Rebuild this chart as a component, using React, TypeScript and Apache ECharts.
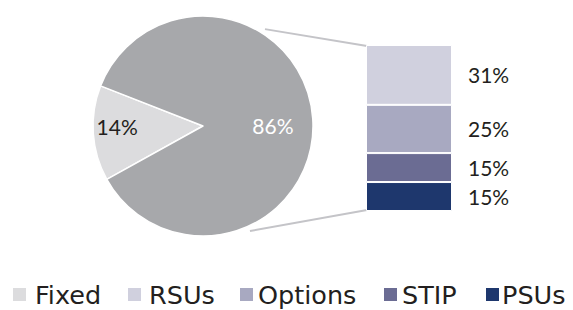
import React, { useEffect, useRef } from "react";
import * as echarts from "echarts";

const pieNames = ["Fixed", "Other"];
const pieValues = [14, 86];
const pieColors = ["#dcdcde", "#a7a8ab"];

const barNames = ["PSUs", "STIP", "Options", "RSUs"];
const barValues = [15, 15, 25, 31];
const barColors = ["#1e376d", "#6b6c93", "#a8a9c1", "#d0d0de"];

const legendNames = ["Fixed", "RSUs", "Options", "STIP", "PSUs"];
const legendLefts = [13, 128, 240, 384, 486];
const legendTextPad = [4, 3, 0, 0, -2];

const PIE_C = [203, 126];
const PIE_R = 110;
const BAR_LEFT = 366;
const BAR_TOP = 45;
const BAR_W = 86;
const BAR_H = 166;

export default function App() {
  const ref = useRef<HTMLDivElement>(null);
  useEffect(() => {
    const chart = echarts.init(ref.current!, undefined, { renderer: "svg" });
    const numFont = "Lato";
    const total = barValues.reduce((a, b) => a + b, 0);
    const pt = (deg: number, r: number) => [
      PIE_C[0] + r * Math.cos((deg * Math.PI) / 180),
      PIE_C[1] - r * Math.sin((deg * Math.PI) / 180),
    ];
    const topStart = pt(57.4, PIE_R + 5);
    const botStart = pt(-65.9, PIE_R + 5);
    chart.setOption({
      animation: false,
      grid: { left: BAR_LEFT, top: BAR_TOP, width: BAR_W, height: BAR_H },
      xAxis: { type: "category", data: ["Other"], show: false },
      yAxis: { type: "value", min: 0, max: total, show: false },
      legend: legendNames.map((n, i) => ({
        data: [n],
        left: legendLefts[i],
        top: 281,
        padding: 0,
        itemWidth: 13,
        itemHeight: 13,
        icon: "rect",
        selectedMode: false,
        itemStyle: { borderWidth: 0 },
        textStyle: {
          fontFamily: "DejaVu Sans",
          fontSize: 25.5,
          color: "#231f20",
          lineHeight: 27,
          padding: [0, 0, 0, legendTextPad[i]],
        },
      })),
      series: [
        {
          type: "pie",
          center: PIE_C,
          radius: PIE_R,
          startAngle: 209,
          clockwise: true,
          data: pieNames.map((n, i) => ({
            name: n,
            value: pieValues[i],
            itemStyle: { color: pieColors[i] },
            label: {
              color: i === 0 ? "#231f20" : "#ffffff",
              offset: i === 0 ? [-28, -3.6] : [12, 3.6],
            },
          })),
          itemStyle: { borderColor: "#ffffff", borderWidth: 1.5 },
          label: {
            show: true,
            position: "inside",
            formatter: "{c}%",
            fontFamily: numFont,
            fontSize: 21,
          },
          labelLine: { show: false },
          emphasis: { disabled: true },
        },
        ...barNames.map((n, i) => ({
          type: "bar",
          name: n,
          stack: "s",
          barWidth: "100%",
          data: [barValues[i]],
          itemStyle: { color: barColors[i], borderColor: "#ffffff", borderWidth: 1 },
          label: {
            show: true,
            position: "right",
            distance: 16,
            formatter: "{c}%",
            fontFamily: numFont,
            fontSize: 21,
            color: "#231f20",
          },
          emphasis: { disabled: true },
        })),
      ],
      graphic: [
        {
          type: "line",
          shape: { x1: topStart[0], y1: topStart[1], x2: BAR_LEFT + 1, y2: BAR_TOP + 1 },
          style: { stroke: "#c4c4c8", lineWidth: 2 },
        },
        {
          type: "line",
          shape: { x1: botStart[0], y1: botStart[1], x2: BAR_LEFT + 1, y2: BAR_TOP + BAR_H - 1 },
          style: { stroke: "#c4c4c8", lineWidth: 2 },
        },
      ],
    });
    return () => chart.dispose();
  }, []);
  return (
    <div
      ref={ref}
      style={{ position: "fixed", left: 0, top: 0, width: 573, height: 310, background: "#fff" }}
    />
  );
}
